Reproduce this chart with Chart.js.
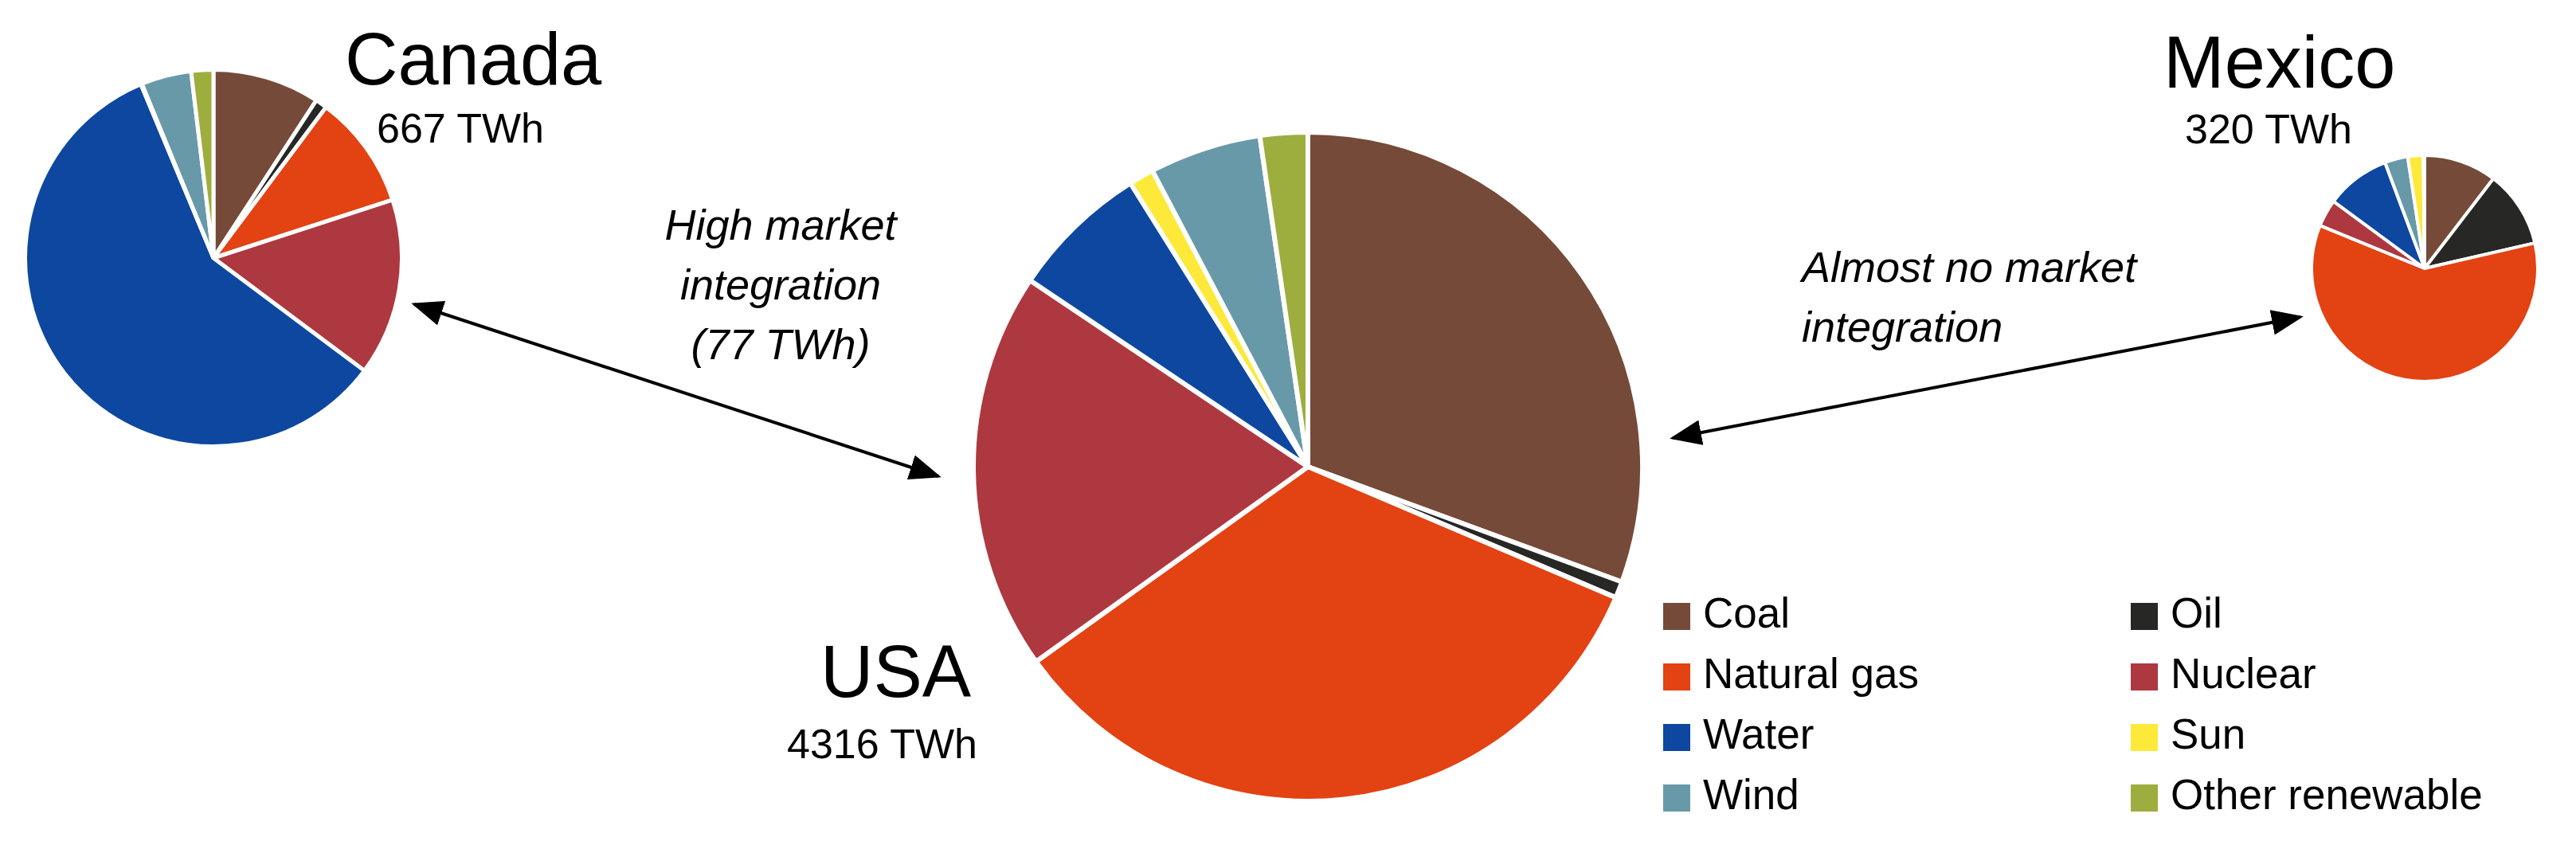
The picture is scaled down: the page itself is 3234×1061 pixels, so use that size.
<!DOCTYPE html>
<html><head><meta charset="utf-8">
<script src="https://cdn.jsdelivr.net/npm/chart.js@4"></script>
<style>
body{margin:0;width:3234px;height:1061px;background:#fff;position:relative;overflow:hidden;font-family:"Liberation Sans",Arial,sans-serif;color:#000}
.box{position:absolute}
.t{position:absolute;white-space:nowrap;line-height:1}
.it{font-style:italic;font-size:54px;text-align:center;line-height:75px}
.lg{position:absolute;font-size:53px;line-height:1;white-space:nowrap}
.sw{display:inline-block;width:34px;height:34px;margin-right:16px;vertical-align:-3px}
</style></head><body>
<div class="box" id="bc" style="left:29px;top:85px;width:478px;height:478px"><canvas id="c1"></canvas></div>
<div class="box" id="bu" style="left:1219px;top:163px;width:846px;height:846px"><canvas id="c2"></canvas></div>
<div class="box" id="bm" style="left:2900px;top:193px;width:288px;height:288px"><canvas id="c3"></canvas></div>
<svg style="position:absolute;left:0;top:0" width="3234" height="1061">
<defs><marker id="ah" markerWidth="10" markerHeight="8" refX="9" refY="4" orient="auto-start-reverse" markerUnits="strokeWidth"><path d="M0,0 L10,4 L0,8 z" fill="#000"/></marker></defs>
<line x1="520" y1="382" x2="1178" y2="598" stroke="#000" stroke-width="4" marker-start="url(#ah)" marker-end="url(#ah)"/>
<line x1="2100" y1="550" x2="2888" y2="398" stroke="#000" stroke-width="4" marker-start="url(#ah)" marker-end="url(#ah)"/>
</svg>
<div class="t" style="left:433px;top:28px;font-size:92px">Canada</div>
<div class="t" style="left:473px;top:135px;font-size:52px">667 TWh</div>
<div class="t" style="left:1030px;top:797px;font-size:92px">USA</div>
<div class="t" style="left:988px;top:908px;font-size:52px">4316 TWh</div>
<div class="t" style="left:2716px;top:32px;font-size:92px">Mexico</div>
<div class="t" style="left:2743px;top:136px;font-size:52px">320 TWh</div>
<div class="t it" style="left:980px;top:245px;transform:translateX(-50%)">High market<br>integration<br>(77 TWh)</div>
<div class="t it" style="left:2262px;top:298px;text-align:left">Almost no market<br>integration</div>
<div id="legend"></div>
<script>
const categories=["Coal","Oil","Natural gas","Nuclear","Water","Sun","Wind","Other renewable"];
const colors=["#754A39","#272725","#E34212","#AE3840","#0E47A0","#FDE93A","#6799A9","#9EAE3E"];
const usaValues=[30.6,0.8,33.7,19.3,6.7,1.2,5.4,2.3];
const canadaValues=[9.2,1.0,9.8,15.2,58.5,0.1,4.3,1.9];
// Mexico slices drawn in picture order: coal, oil, gas, nuclear, water, wind, sun
const mexicoOrder=[0,1,2,3,4,6,5,7];
const mexicoValues=[10.4,11.0,59.8,3.9,9.2,3.3,2.2,0.2];
function pie(id,order,vals,bw){
  new Chart(document.getElementById(id),{type:'pie',
    data:{labels:order.map(i=>categories[i]),datasets:[{data:vals,backgroundColor:order.map(i=>colors[i]),borderColor:'#fff',borderWidth:bw}]},
    options:{responsive:true,maintainAspectRatio:false,animation:false,layout:{padding:0},plugins:{legend:{display:false},tooltip:{enabled:false}}}});
}
const idx=[0,1,2,3,4,5,6,7];
pie('c1',idx,canadaValues,5);
pie('c2',idx,usaValues,6);
pie('c3',mexicoOrder,mexicoValues,4);
const lg=document.getElementById('legend');
categories.forEach((c,i)=>{
  const d=document.createElement('div');d.className='lg';
  const col=i%2,row=Math.floor(i/2);
  d.style.left=(col?2675:2088)+'px';d.style.top=(743+row*76)+'px';
  d.innerHTML='<span class="sw" style="background:'+colors[i]+'"></span>'+c;
  lg.appendChild(d);
});
</script>
</body></html>
